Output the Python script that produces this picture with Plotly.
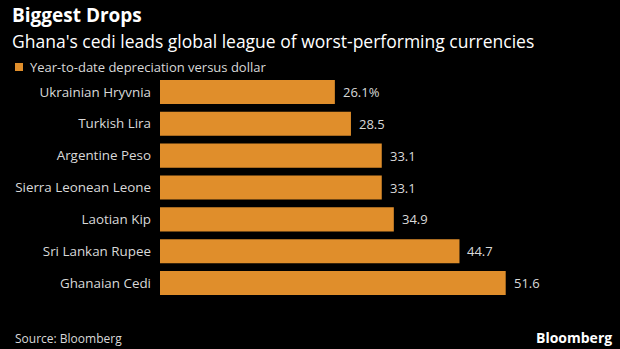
import plotly.graph_objects as go

currencies = ["Ukrainian Hryvnia", "Turkish Lira", "Argentine Peso", "Sierra Leonean Leone",
              "Laotian Kip", "Sri Lankan Rupee", "Ghanaian Cedi"]
depreciation = [26.1, 28.5, 33.1, 33.1, 34.9, 44.7, 51.6]
value_labels = ["26.1%", "28.5", "33.1", "33.1", "34.9", "44.7", "51.6"]

BAR = "#e08e2b"
TEXT = "#d9d9d9"
FONT = "Open Sans"

fig = go.Figure(go.Bar(
    x=depreciation, y=currencies, orientation="h",
    marker=dict(color=BAR, line=dict(width=0)),
    name="Year-to-date depreciation versus dollar",
    hoverinfo="skip",
))

for c, v, lab in zip(currencies, depreciation, value_labels):
    fig.add_annotation(x=v, y=c, text=lab, xanchor="left", xshift=6, showarrow=False,
                       font=dict(family=FONT, size=13, color=TEXT))

fig.update_layout(
    width=620, height=349,
    paper_bgcolor="black", plot_bgcolor="black",
    margin=dict(l=160, r=0, t=76, b=50),
    bargap=0.245,
    showlegend=False,
    xaxis=dict(range=[0, 68.66], visible=False, fixedrange=True),
    yaxis=dict(autorange="reversed", showgrid=False, zeroline=False, showline=False,
               ticks="", ticklabelstandoff=8,
               tickfont=dict(family=FONT, size=13.4, color=TEXT)),
    font=dict(family=FONT, color=TEXT),
)

# Header, legend key and footer (paper coords relative to a 460x223 plot area)
fig.add_annotation(xref="paper", yref="paper", x=-150/460, y=1 + 76/223, xanchor="left", yanchor="top",
                   yshift=0, text="<b>Biggest Drops</b>", showarrow=False,
                   font=dict(family=FONT, size=19, color="white"))
fig.add_annotation(xref="paper", yref="paper", x=-150/460, y=1 + 76/223, xanchor="left", yanchor="top",
                   yshift=-27, text="Ghana's cedi leads global league of worst-performing currencies",
                   showarrow=False, font=dict(family=FONT, size=17.5, color="white"))
fig.add_shape(type="rect", xref="paper", yref="paper", x0=-145/460, x1=-137/460,
              y0=1 + 5/223, y1=1 + 13/223, fillcolor=BAR, line=dict(width=0))
fig.add_annotation(xref="paper", yref="paper", x=-132/460, y=1 + 9/223, xanchor="left", yanchor="middle",
                   text="Year-to-date depreciation versus dollar", showarrow=False,
                   font=dict(family=FONT, size=13, color=TEXT))
fig.add_annotation(xref="paper", yref="paper", x=-147/460, y=-50/223, xanchor="left", yanchor="bottom",
                   text="Source: Bloomberg", showarrow=False,
                   font=dict(family=FONT, size=12, color=TEXT))
fig.add_annotation(xref="paper", yref="paper", x=1, y=-50/223, xanchor="right", yanchor="bottom",
                   xshift=-6, text="<b>Bloomberg</b>", showarrow=False,
                   font=dict(family=FONT, size=14, color="white"))

fig.write_html("out.html")
